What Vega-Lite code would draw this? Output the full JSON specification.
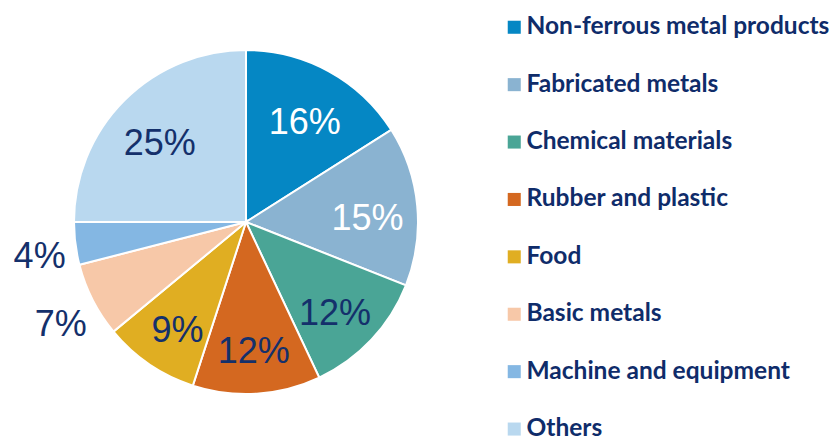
{
  "$schema": "https://vega.github.io/schema/vega-lite/v6.json",
  "width": 492,
  "height": 444,
  "autosize": "none",
  "padding": {"left": 0, "top": 0, "right": 344, "bottom": 3},
  "background": "white",
  "config": {"view": {"stroke": null}},
  "data": {
    "values": [
      {"category": "Non-ferrous metal products", "share": 0.16, "rank": 1},
      {"category": "Fabricated metals", "share": 0.15, "rank": 2},
      {"category": "Chemical materials", "share": 0.12, "rank": 3},
      {"category": "Rubber and plastic", "share": 0.12, "rank": 4},
      {"category": "Food", "share": 0.09, "rank": 5},
      {"category": "Basic metals", "share": 0.07, "rank": 6},
      {"category": "Machine and equipment", "share": 0.04, "rank": 7},
      {"category": "Others", "share": 0.25, "rank": 8}
    ]
  },
  "transform": [
    {"stack": "share", "sort": [{"field": "rank", "order": "ascending"}], "groupby": [], "as": ["s0", "s1"]},
    {"calculate": "(datum.s0 + datum.s1) / 2", "as": "mid"}
  ],
  "layer": [
    {
      "mark": {"type": "arc", "outerRadius": 172, "stroke": "white", "strokeWidth": 2},
      "encoding": {
        "theta": {"field": "s0", "type": "quantitative", "scale": {"domain": [0, 1], "range": [0, 6.283185307179586]}},
        "theta2": {"field": "s1"},
        "color": {
          "field": "category",
          "type": "nominal",
          "sort": null,
          "scale": {
            "domain": ["Non-ferrous metal products", "Fabricated metals", "Chemical materials", "Rubber and plastic", "Food", "Basic metals", "Machine and equipment", "Others"],
            "range": ["#0587c4", "#8ab3d1", "#4aa596", "#d46820", "#e0ae22", "#f7c8a8", "#84b7e3", "#b9d8ef"]
          },
          "legend": {
            "title": null,
            "orient": "none",
            "legendX": 502,
            "legendY": 15,
            "symbolType": "square",
            "symbolSize": 170,
            "symbolStrokeWidth": 0,
            "labelFont": "Lato",
            "labelFontWeight": "bold",
            "labelFontSize": 24.5,
            "labelColor": "#0f2c6a",
            "labelOffset": 0,
            "labelLimit": 400,
            "rowPadding": 32.4
          }
        }
      }
    },
    {
      "transform": [{"filter": "datum.share >= 0.09"}],
      "mark": {"type": "text", "radius": 122, "dy": 8, "font": "Liberation Sans", "fontSize": 36},
      "encoding": {
        "theta": {"field": "mid", "type": "quantitative"},
        "text": {"field": "share", "type": "quantitative", "format": ".0%"},
        "color": {
          "condition": {"test": "datum.rank <= 2", "value": "white"},
          "value": "#14306b"
        }
      }
    },
    {
      "transform": [{"filter": "datum.share < 0.09"}],
      "mark": {"type": "text", "radius": 208, "dy": 9, "font": "Liberation Sans", "fontSize": 36, "color": "#14306b"},
      "encoding": {
        "theta": {"field": "mid", "type": "quantitative"},
        "text": {"field": "share", "type": "quantitative", "format": ".0%"}
      }
    }
  ]
}
